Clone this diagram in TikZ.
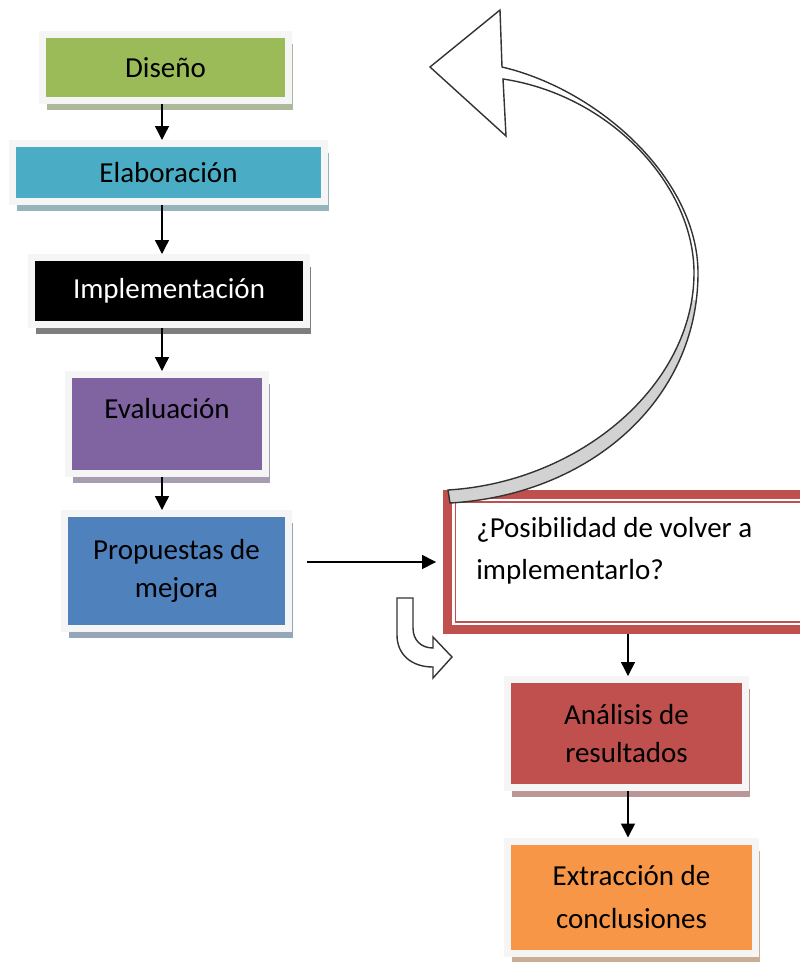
\documentclass[tikz,border=0pt]{standalone}
\usepackage{fontspec}
\setmainfont{Carlito}
\usetikzlibrary{arrows.meta,shadows}

\definecolor{verde}{HTML}{9BBB59}
\definecolor{cian}{HTML}{4BACC6}
\definecolor{morado}{HTML}{8064A2}
\definecolor{azul}{HTML}{4F81BD}
\definecolor{rojo}{HTML}{C0504D}
\definecolor{naranja}{HTML}{F79646}

\begin{document}
\begin{tikzpicture}[x=0.02cm, y=-0.02cm,
  >={Triangle[length=0.28cm,width=0.28cm]},
  stepbox/.style={rectangle, fill=#1, draw=gray!8, line width=0.14cm, inner sep=0pt,
    align=center, font=\fontsize{16.5}{22}\selectfont,
    drop shadow={shadow xshift=0.09cm, shadow yshift=-0.19cm, fill=#1!45!gray!70, opacity=1}},
  blockarrow/.style={draw=black!80, line width=0.8pt, line join=miter}]
\useasboundingbox (0,0) rectangle (800,963);
\clip (0,0) rectangle (800,963);

\coordinate (eje) at (162,0);
\coordinate (eje2) at (628,0);

\node (dis) [stepbox=verde, minimum width=4.92cm, minimum height=1.32cm] at (165.5,67.5) {Diseño};
\node (ela) [stepbox=cian, minimum width=6.24cm, minimum height=1.16cm] at (168.5,172.5) {Elaboración};
\node (imp) [stepbox=black, text=white, minimum width=5.5cm, minimum height=1.34cm] at (169,291) {Implementación};
\node (eva) [stepbox=morado, minimum width=3.94cm, minimum height=1.98cm] at (167,424) {Evaluación\\[-0.4cm]\strut};
\node (pro) [stepbox=azul, minimum width=4.48cm, minimum height=2.3cm] at (176.5,571) {Propuestas de\\mejora};
\node (rb) [draw=rojo, line width=0.18cm, fill=white, minimum width=7.29cm, minimum height=2.7cm] at (629.75,562) {};
\node (pregunta) [anchor=west, inner sep=0pt, align=left, font=\fontsize{16.5}{24}\selectfont] at (476,551) {¿Posibilidad de volver a\\implementarlo?};
\node (ana) [stepbox=rojo, minimum width=4.76cm, minimum height=2.16cm] at (626.5,733.5) {Análisis de\\resultados};
\node (ext) [stepbox=naranja, minimum width=4.96cm, minimum height=2.24cm, font=\fontsize{16.5}{25}\selectfont] at (631.5,897) {Extracción de\\conclusiones};

\draw[rojo, line width=0.6pt] ([shift={(12,12)}]rb.north west) rectangle ([shift={(-12,-12)}]rb.south east);

% vuelta atras
\path[save path=\vuelta] (430,67) -- (500,10) -- (502,67)
  .. controls (600,90) and (698,180) .. (698,273)
  .. controls (698,400) and (590,495) .. (450,503)
  -- (448,490)
  .. controls (580,482) and (694,385) .. (694,273)
  .. controls (694,185) and (610,95) .. (503,79)
  -- (506,136) -- cycle;
\fill[white, use path=\vuelta];
\begin{scope}
  \clip (440,300) rectangle (720,520);
  \fill[gray!35, use path=\vuelta];
\end{scope}
\draw[blockarrow, use path=\vuelta];

\draw[blockarrow, fill=white] (397,598) -- (397,635) .. controls (397,655) and (412,667) .. (433,667)
  -- (433,678) -- (452,657) -- (433,637) -- (433,648)
  .. controls (421,648) and (413,640) .. (413,628) -- (413,598) -- cycle;

\draw[->, thick] (dis.south -| eje) -- (ela.north -| eje);
\draw[->, thick] (ela.south -| eje) -- (imp.north -| eje);
\draw[->, thick] (imp.south -| eje) -- (eva.north -| eje);
\draw[->, thick] (eva.south -| eje) -- (pro.north -| eje);
\draw[->, thick] ([xshift=0.3cm]pro.east |- rb.west) -- ([xshift=-0.14cm]rb.west);
\draw[->, thick] (rb.south -| eje2) -- (ana.north -| eje2);
\draw[->, thick] (ana.south -| eje2) -- (ext.north -| eje2);

\end{tikzpicture}
\end{document}
